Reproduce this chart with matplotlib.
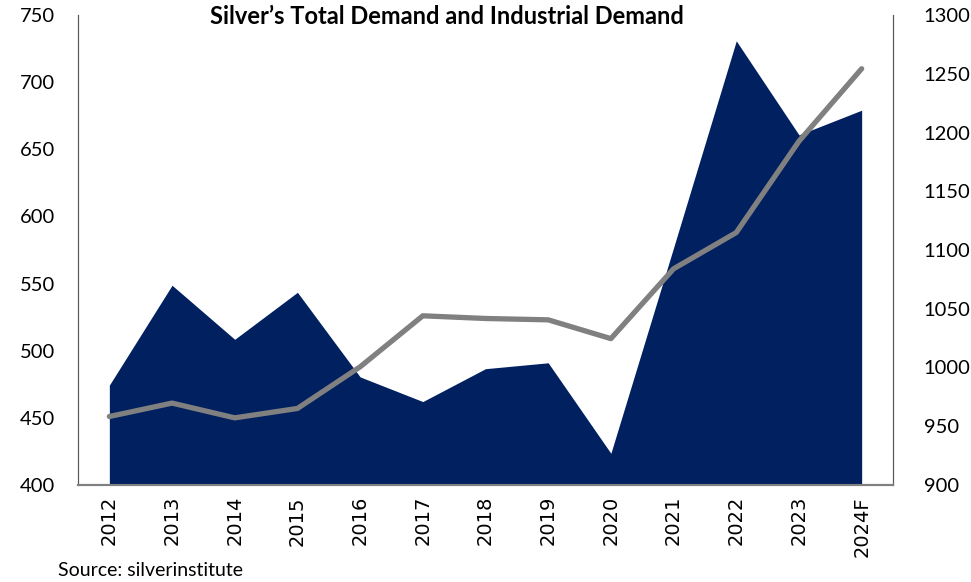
import matplotlib
matplotlib.use('Agg')
import matplotlib.pyplot as plt

# data (Moz)
years = ['2012', '2013', '2014', '2015', '2016', '2017', '2018', '2019',
         '2020', '2021', '2022', '2023', '2024F']
total_demand = [985, 1070, 1024, 1064, 992, 971, 999, 1004, 927, 1102, 1278, 1198, 1219]
industrial_demand = [451, 461, 450, 457, 488, 526, 524, 523, 509, 561, 588, 656, 710]

x = list(range(len(years)))

fig = plt.figure(figsize=(9.71, 5.82), dpi=100)
ax = fig.add_axes([78/971, 1 - 485/582, (893 - 78)/971, (485 - 15)/582])
ax2 = ax.twinx()

# total demand as area on the right axis
ax2.fill_between(x, 900, total_demand, color='#002060', linewidth=0)
ax2.set_ylim(900, 1300)
ax2.set_yticks(range(900, 1301, 50))

# industrial demand as line on the left axis, drawn on top
ax.plot(x, industrial_demand, color='#808080', linewidth=3.8, solid_capstyle='round')
ax.set_ylim(400, 750)
ax.set_yticks(range(400, 751, 50))
ax.set_xlim(-0.5, len(years) - 0.5)
ax.set_xticks(x)
ax.set_xticklabels(years, rotation=90, fontsize=14, family='DejaVu Sans')

ax.set_zorder(ax2.get_zorder() + 1)
ax.patch.set_visible(False)

for a in (ax, ax2):
    a.spines['top'].set_visible(False)
    a.spines['left'].set_color('#595959')
    a.spines['right'].set_color('#595959')
    a.spines['bottom'].set_color('#808080')
    a.spines['bottom'].set_linewidth(1.5)
    a.tick_params(axis='y', length=0, labelsize=14.5)
    a.tick_params(axis='x', length=0, pad=8)
    for lab in a.get_yticklabels():
        lab.set_family('Lato')
ax.tick_params(axis='y', pad=42)
for lab in ax.get_yticklabels():
    lab.set_horizontalalignment('left')
ax2.tick_params(axis='y', pad=22)

fig.text(447/971, 1 - 17/582, 'Silver\u2019s Total Demand and Industrial Demand',
         ha='center', va='center', fontsize=17, fontweight='bold', family='Lato')
fig.text(58/971, 1 - 570/582, 'Source: silverinstitute', ha='left', va='center',
         fontsize=14, family='Lato')

fig.savefig('out.png', dpi=100)
